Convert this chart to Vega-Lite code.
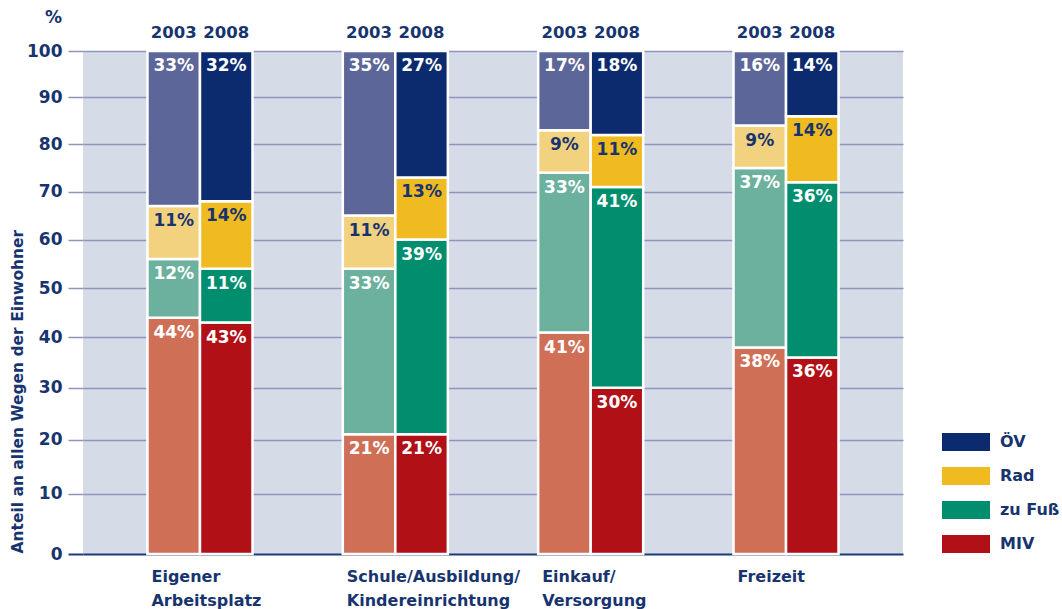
{
  "$schema": "https://vega.github.io/schema/vega-lite/v6.json",
  "width": 820,
  "height": 503,
  "autosize": "none",
  "padding": {"left": 83, "top": 51, "right": 159, "bottom": 55},
  "background": "white",
  "title": {
    "text": "%",
    "anchor": "start",
    "frame": "group",
    "align": "right",
    "dx": -21,
    "dy": 19,
    "offset": 0,
    "baseline": "bottom",
    "font": "DejaVu Sans",
    "fontSize": 17,
    "fontWeight": "bold",
    "color": "#17346f"
  },
  "config": {
    "view": {"fill": "#d5dce8", "stroke": null},
    "font": "DejaVu Sans",
    "axisY": {
      "values": [0, 10, 20, 30, 40, 50, 60, 70, 80, 90, 100],
      "grid": true,
      "gridColor": {"condition": {"test": "datum.value === 0", "value": "#1e3a78"}, "value": "#8e94bb"},
      "gridWidth": {"condition": {"test": "datum.value === 0", "value": 2}, "value": 1.5},
      "gridOpacity": 1,
      "domain": false,
      "ticks": true,
      "tickSize": 15,
      "tickColor": {"condition": {"test": "datum.value === 0", "value": "#1e3a78"}, "value": "#8e94bb"},
      "tickWidth": {"condition": {"test": "datum.value === 0", "value": 2}, "value": 1.5},
      "labelFont": "DejaVu Sans",
      "labelFontSize": 17,
      "labelFontWeight": "bold",
      "labelColor": "#17346f",
      "labelPadding": 6,
      "labelFlush": false,
      "labelOverlap": false,
      "titleFont": "DejaVu Sans",
      "titleFontSize": 15.5,
      "titleFontWeight": "bold",
      "titleColor": "#17346f",
      "titleAngle": -90,
      "titleAlign": "left",
      "titleBaseline": "middle",
      "titleX": -66,
      "titleY": 502
    }
  },
  "data": {
    "values": [
      {"cat": "Eigener Arbeitsplatz", "year": "2003", "mode": "MIV", "v": 44},
      {"cat": "Eigener Arbeitsplatz", "year": "2003", "mode": "zu Fuß", "v": 12},
      {"cat": "Eigener Arbeitsplatz", "year": "2003", "mode": "Rad", "v": 11},
      {"cat": "Eigener Arbeitsplatz", "year": "2003", "mode": "ÖV", "v": 33},
      {"cat": "Eigener Arbeitsplatz", "year": "2008", "mode": "MIV", "v": 43},
      {"cat": "Eigener Arbeitsplatz", "year": "2008", "mode": "zu Fuß", "v": 11},
      {"cat": "Eigener Arbeitsplatz", "year": "2008", "mode": "Rad", "v": 14},
      {"cat": "Eigener Arbeitsplatz", "year": "2008", "mode": "ÖV", "v": 32},
      {"cat": "Schule/Ausbildung/Kindereinrichtung", "year": "2003", "mode": "MIV", "v": 21},
      {"cat": "Schule/Ausbildung/Kindereinrichtung", "year": "2003", "mode": "zu Fuß", "v": 33},
      {"cat": "Schule/Ausbildung/Kindereinrichtung", "year": "2003", "mode": "Rad", "v": 11},
      {"cat": "Schule/Ausbildung/Kindereinrichtung", "year": "2003", "mode": "ÖV", "v": 35},
      {"cat": "Schule/Ausbildung/Kindereinrichtung", "year": "2008", "mode": "MIV", "v": 21},
      {"cat": "Schule/Ausbildung/Kindereinrichtung", "year": "2008", "mode": "zu Fuß", "v": 39},
      {"cat": "Schule/Ausbildung/Kindereinrichtung", "year": "2008", "mode": "Rad", "v": 13},
      {"cat": "Schule/Ausbildung/Kindereinrichtung", "year": "2008", "mode": "ÖV", "v": 27},
      {"cat": "Einkauf/Versorgung", "year": "2003", "mode": "MIV", "v": 41},
      {"cat": "Einkauf/Versorgung", "year": "2003", "mode": "zu Fuß", "v": 33},
      {"cat": "Einkauf/Versorgung", "year": "2003", "mode": "Rad", "v": 9},
      {"cat": "Einkauf/Versorgung", "year": "2003", "mode": "ÖV", "v": 17},
      {"cat": "Einkauf/Versorgung", "year": "2008", "mode": "MIV", "v": 30},
      {"cat": "Einkauf/Versorgung", "year": "2008", "mode": "zu Fuß", "v": 41},
      {"cat": "Einkauf/Versorgung", "year": "2008", "mode": "Rad", "v": 11},
      {"cat": "Einkauf/Versorgung", "year": "2008", "mode": "ÖV", "v": 18},
      {"cat": "Freizeit", "year": "2003", "mode": "MIV", "v": 38},
      {"cat": "Freizeit", "year": "2003", "mode": "zu Fuß", "v": 37},
      {"cat": "Freizeit", "year": "2003", "mode": "Rad", "v": 9},
      {"cat": "Freizeit", "year": "2003", "mode": "ÖV", "v": 16},
      {"cat": "Freizeit", "year": "2008", "mode": "MIV", "v": 36},
      {"cat": "Freizeit", "year": "2008", "mode": "zu Fuß", "v": 36},
      {"cat": "Freizeit", "year": "2008", "mode": "Rad", "v": 14},
      {"cat": "Freizeit", "year": "2008", "mode": "ÖV", "v": 14}
    ]
  },
  "transform": [
    {"calculate": "indexof(['MIV','zu Fuß','Rad','ÖV'], datum.mode)", "as": "ord"},
    {"calculate": "datum.v + '%'", "as": "lab"}
  ],
  "encoding": {
    "x": {
      "field": "cat",
      "type": "nominal",
      "sort": ["Eigener Arbeitsplatz", "Schule/Ausbildung/Kindereinrichtung", "Einkauf/Versorgung", "Freizeit"],
      "scale": {"paddingInner": 0.4624, "paddingOuter": 0.33},
      "axis": {
        "title": null,
        "domain": false,
        "ticks": false,
        "grid": false,
        "labelAngle": 0,
        "labelAlign": "left",
        "labelBaseline": "top",
        "labelOffset": -48.5,
        "labelPadding": 14,
        "labelFont": "DejaVu Sans",
        "labelFontSize": 16,
        "labelFontWeight": "bold",
        "labelColor": "#17346f",
        "labelLineHeight": 24,
        "labelOverlap": false,
        "labelFlush": false,
        "labelLimit": 0,
        "labelExpr": "datum.label == 'Eigener Arbeitsplatz' ? ['Eigener', 'Arbeitsplatz'] : datum.label == 'Schule/Ausbildung/Kindereinrichtung' ? ['Schule/Ausbildung/', 'Kindereinrichtung'] : datum.label == 'Einkauf/Versorgung' ? ['Einkauf/', 'Versorgung'] : datum.label"
      }
    },
    "xOffset": {
      "field": "year",
      "type": "nominal",
      "sort": ["2003", "2008"],
      "scale": {"paddingInner": 0, "paddingOuter": 0}
    }
  },
  "layer": [
    {
      "transform": [{"filter": "datum.year == '2003'"}],
      "mark": {"type": "bar", "stroke": "white", "strokeWidth": 2.5},
      "encoding": {
        "y": {
          "field": "v",
          "type": "quantitative",
          "stack": "zero",
          "title": "Anteil an allen Wegen der Einwohner",
          "scale": {"type": "pow", "exponent": 0.92, "domain": [0, 100], "nice": false}
        },
        "color": {
          "field": "mode",
          "type": "nominal",
          "scale": {"domain": ["ÖV", "Rad", "zu Fuß", "MIV"], "range": ["#5d6699", "#f3d27f", "#6cb19d", "#cf6f56"]},
          "legend": null
        },
        "order": {"field": "ord", "type": "quantitative"}
      }
    },
    {
      "transform": [{"filter": "datum.year == '2008'"}],
      "mark": {"type": "bar", "stroke": "white", "strokeWidth": 2.5},
      "encoding": {
        "y": {
          "field": "v",
          "type": "quantitative",
          "stack": "zero",
          "title": "Anteil an allen Wegen der Einwohner"
        },
        "color": {
          "field": "mode",
          "type": "nominal",
          "scale": {"domain": ["ÖV", "Rad", "zu Fuß", "MIV"], "range": ["#0c2b6f", "#efbb21", "#008e6f", "#b01016"]},
          "legend": {
            "title": null,
            "orient": "none",
            "legendX": 859,
            "legendY": 367,
            "symbolType": "M-1,-0.375H1V0.375H-1Z",
            "symbolSize": 2304,
            "symbolStrokeWidth": 0,
            "symbolOpacity": 1,
            "labelFont": "DejaVu Sans",
            "labelFontSize": 16,
            "labelFontWeight": "bold",
            "labelColor": "#17346f",
            "labelOffset": 10,
            "rowPadding": 1
          }
        },
        "order": {"field": "ord", "type": "quantitative"}
      }
    },
    {
      "mark": {"type": "text", "baseline": "middle", "align": "center", "dy": 15, "fontSize": 17, "fontWeight": "bold", "font": "DejaVu Sans"},
      "encoding": {
        "y": {
          "field": "v",
          "type": "quantitative",
          "stack": "zero",
          "title": "Anteil an allen Wegen der Einwohner"
        },
        "detail": {"field": "mode"},
        "order": {"field": "ord", "type": "quantitative"},
        "text": {"field": "lab"},
        "color": {"condition": {"test": "datum.mode == 'Rad'", "value": "#17346f"}, "value": "white"}
      }
    },
    {
      "transform": [{"filter": "datum.mode == 'ÖV'"}],
      "mark": {"type": "text", "baseline": "middle", "align": "center", "dy": -18, "fontSize": 16.5, "fontWeight": "bold", "font": "DejaVu Sans", "color": "#17346f"},
      "encoding": {
        "y": {"datum": 100, "type": "quantitative"},
        "text": {"field": "year"}
      }
    }
  ],
  "resolve": {"scale": {"color": "independent"}}
}
